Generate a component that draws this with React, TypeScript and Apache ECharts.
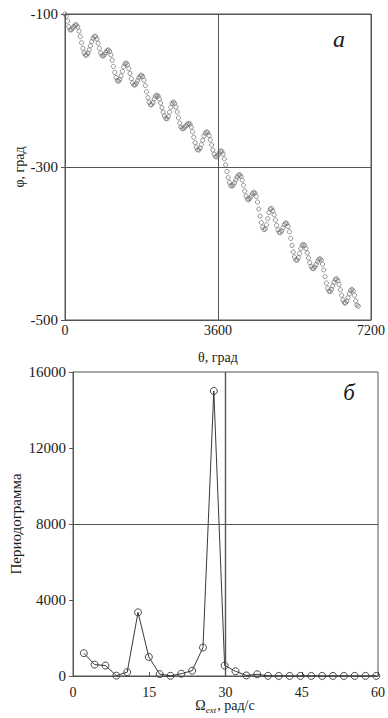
import { useEffect, useRef } from "react";
import * as echarts from "echarts";

// Panel (а): phase angle φ versus rotation angle θ, degrees
const thetaDeg = [
  0, 30, 60, 90, 120, 150, 180, 210, 240, 270,
  300, 330, 360, 390, 420, 450, 480, 510, 540, 570,
  600, 630, 660, 690, 720, 750, 780, 810, 840, 870,
  900, 930, 960, 990, 1020, 1050, 1080, 1110, 1140, 1170,
  1200, 1230, 1260, 1290, 1320, 1350, 1380, 1410, 1440, 1470,
  1500, 1530, 1560, 1590, 1620, 1650, 1680, 1710, 1740, 1770,
  1800, 1830, 1860, 1890, 1920, 1950, 1980, 2010, 2040, 2070,
  2100, 2130, 2160, 2190, 2220, 2250, 2280, 2310, 2340, 2370,
  2400, 2430, 2460, 2490, 2520, 2550, 2580, 2610, 2640, 2670,
  2700, 2730, 2760, 2790, 2820, 2850, 2880, 2910, 2940, 2970,
  3000, 3030, 3060, 3090, 3120, 3150, 3180, 3210, 3240, 3270,
  3300, 3330, 3360, 3390, 3420, 3450, 3480, 3510, 3540, 3570,
  3600, 3630, 3660, 3690, 3720, 3750, 3780, 3810, 3840, 3870,
  3900, 3930, 3960, 3990, 4020, 4050, 4080, 4110, 4140, 4170,
  4200, 4230, 4260, 4290, 4320, 4350, 4380, 4410, 4440, 4470,
  4500, 4530, 4560, 4590, 4620, 4650, 4680, 4710, 4740, 4770,
  4800, 4830, 4860, 4890, 4920, 4950, 4980, 5010, 5040, 5070,
  5100, 5130, 5160, 5190, 5220, 5250, 5280, 5310, 5340, 5370,
  5400, 5430, 5460, 5490, 5520, 5550, 5580, 5610, 5640, 5670,
  5700, 5730, 5760, 5790, 5820, 5850, 5880, 5910, 5940, 5970,
  6000, 6030, 6060, 6090, 6120, 6150, 6180, 6210, 6240, 6270,
  6300, 6330, 6360, 6390, 6420, 6450, 6480, 6510, 6540, 6570,
  6600, 6630, 6660, 6690, 6720, 6750, 6780, 6810, 6840, 6870,
  6900,
];

const phiDeg = [
  -100, -102.7, -109.3, -116.6, -120.8, -120.6, -118.7, -116.2, -114.4, -114.2,
  -116.9, -122.4, -129.6, -137.6, -145.0, -150.6, -153.6, -153.7, -151.2, -146.9,
  -141.5, -136.1, -131.8, -129.4, -129.4, -132.6, -138.3, -145.0, -150.9, -154.4,
  -154.8, -153.1, -150.3, -147.9, -147.0, -148.7, -153.5, -160.4, -168.5, -176.4,
  -183.0, -187.0, -187.9, -185.7, -180.9, -174.9, -169.1, -165.1, -164.1, -166.2,
  -171.2, -177.8, -184.6, -190.0, -192.8, -192.6, -190.5, -187.2, -183.6, -181.0,
  -180.0, -181.7, -186.5, -193.6, -201.7, -209.4, -215.4, -218.6, -218.6, -215.6,
  -211.1, -207.3, -206.0, -207.4, -211.0, -216.3, -222.4, -228.4, -233.3, -236.3,
  -236.9, -234.1, -228.4, -221.9, -216.8, -215.0, -216.8, -221.5, -228.2, -235.8,
  -242.7, -247.8, -250.0, -249.6, -248.0, -245.9, -244.0, -243.0, -243.9, -247.7,
  -253.8, -261.1, -268.4, -274.2, -277.5, -277.7, -275.3, -270.7, -265.1, -259.7,
  -255.7, -254.0, -255.1, -258.8, -264.5, -271.2, -277.8, -283.2, -286.4, -286.8,
  -284.7, -281.4, -279.2, -279.6, -283.2, -289.4, -297.3, -305.9, -313.9, -320.3,
  -324.1, -324.9, -323.5, -320.5, -316.7, -313.2, -310.7, -310.0, -312.1, -317.2,
  -324.1, -331.5, -338.0, -342.0, -342.9, -341.2, -338.0, -334.8, -333.1, -334.1,
  -338.5, -345.8, -354.8, -364.2, -372.6, -378.8, -381.8, -380.9, -375.6, -367.6,
  -359.7, -354.8, -354.3, -357.1, -362.5, -369.3, -376.2, -382.0, -385.4, -385.8,
  -383.5, -379.4, -375.4, -373.2, -373.8, -377.8, -384.6, -393.3, -402.6, -411.1,
  -417.7, -421.4, -421.7, -418.5, -413.0, -406.9, -402.4, -401.0, -402.6, -406.6,
  -412.3, -418.9, -425.0, -429.9, -432.6, -432.8, -430.8, -427.5, -423.8, -421.1,
  -420.0, -421.8, -426.9, -434.5, -443.3, -451.7, -458.5, -462.4, -462.7, -460.1,
  -455.5, -450.6, -447.0, -446.1, -448.4, -453.5, -460.4, -467.6, -473.7, -477.3,
  -477.8, -475.4, -470.9, -465.8, -461.7, -460.0, -461.9, -467.7, -475.0, -480.5,
  -482.0,
];

// Panel (б): periodogram versus frequency Ω_ext, rad/s
const omegaExt = [
  2.13, 4.26, 6.39, 8.52, 10.66, 12.79, 14.92, 17.05, 19.18, 21.31,
  23.44, 25.57, 27.70, 29.83, 31.97, 34.10, 36.23, 38.36, 40.49, 42.62,
  44.75, 46.88, 49.01, 51.14, 53.28, 55.41, 57.54, 59.67,
];

const periodogram = [
  1200, 600, 550, 20, 200, 3350, 1000, 100, 10, 120,
  280, 1500, 15000, 550, 250, 30, 90, 10, 5, 5,
  5, 5, 5, 5, 5, 5, 5, 5,
];

const FONT = '"Liberation Serif", "Times New Roman", serif';
const AXIS = "#555555";
const INK = "#1a1a1a";

const plain = (v: number) => String(v);

export default function App() {
  const ref = useRef<HTMLDivElement>(null);

  useEffect(() => {
    if (!ref.current) return;
    const chart = echarts.init(ref.current, null, { renderer: "svg" });

    const axisCommon = {
      type: "value" as const,
      axisLine: { show: true, lineStyle: { color: AXIS, width: 1 } },
      axisLabel: { color: INK, fontFamily: FONT, formatter: plain },
    };

    chart.setOption({
      animation: false,
      backgroundColor: "#ffffff",
      textStyle: { fontFamily: FONT },
      grid: [
        { left: 65, top: 14, width: 306, height: 306, show: true, borderColor: AXIS, borderWidth: 1, backgroundColor: "transparent" },
        { left: 73, top: 372, width: 305, height: 304, show: true, borderColor: AXIS, borderWidth: 1, backgroundColor: "transparent" },
      ],
      xAxis: [
        {
          ...axisCommon,
          gridIndex: 0,
          min: 0,
          max: 7200,
          interval: 3600,
          axisTick: { show: true, inside: true, length: 4, lineStyle: { color: AXIS } },
          axisLabel: { ...axisCommon.axisLabel, fontSize: 14, margin: 3 },
          splitLine: { show: true, lineStyle: { color: AXIS, width: 1 } },
        },
        {
          ...axisCommon,
          gridIndex: 1,
          min: 0,
          max: 60,
          interval: 15,
          axisTick: { show: true, inside: true, length: 4, lineStyle: { color: AXIS } },
          axisLabel: { ...axisCommon.axisLabel, fontSize: 14, margin: 9 },
          splitLine: { show: false },
        },
      ],
      yAxis: [
        {
          ...axisCommon,
          gridIndex: 0,
          min: -500,
          max: -100,
          interval: 200,
          axisTick: { show: true, inside: false, length: 4, lineStyle: { color: AXIS } },
          axisLabel: { ...axisCommon.axisLabel, fontSize: 15, margin: 7 },
          splitLine: { show: true, lineStyle: { color: AXIS, width: 1 } },
        },
        {
          ...axisCommon,
          gridIndex: 1,
          min: 0,
          max: 16000,
          interval: 4000,
          axisTick: { show: true, inside: false, length: 4, lineStyle: { color: AXIS } },
          axisLabel: { ...axisCommon.axisLabel, fontSize: 15, margin: 7 },
          splitLine: { show: false },
        },
      ],
      series: [
        {
          type: "scatter",
          xAxisIndex: 0,
          yAxisIndex: 0,
          data: thetaDeg.map((t, i) => [t, phiDeg[i]]),
          symbol: "circle",
          symbolSize: 4.2,
          itemStyle: { color: "rgba(255,255,255,0)", borderColor: "#6a6a6a", borderWidth: 0.9 },
          silent: true,
        },
        {
          type: "line",
          xAxisIndex: 1,
          yAxisIndex: 1,
          data: omegaExt.map((w, i) => [w, periodogram[i]]),
          symbol: "circle",
          symbolSize: 7,
          showSymbol: true,
          lineStyle: { color: "#222222", width: 0.9 },
          itemStyle: { color: "rgba(255,255,255,0)", borderColor: "#333333", borderWidth: 0.9 },
          silent: true,
          markLine: {
            silent: true,
            symbol: "none",
            label: { show: false },
            lineStyle: { color: AXIS, type: "solid", width: 1 },
            data: [{ xAxis: 30, lineStyle: { width: 1.4 } }, { yAxis: 8000 }],
          },
        },
      ],
      graphic: [
        {
          type: "text",
          x: 19,
          y: 167,
          rotation: Math.PI / 2,
          style: { text: "φ, град", font: `14px ${FONT}`, fill: INK, align: "center", verticalAlign: "middle" },
        },
        {
          type: "text",
          x: 218,
          y: 357,
          style: { text: "θ, град", font: `14px ${FONT}`, fill: INK, align: "center", verticalAlign: "middle" },
        },
        {
          type: "text",
          x: 339,
          y: 39,
          style: { text: "а", font: `italic 24px ${FONT}`, fill: INK, align: "center", verticalAlign: "middle" },
        },
        {
          type: "text",
          x: 16,
          y: 524,
          rotation: Math.PI / 2,
          style: { text: "Периодограмма", font: `15px ${FONT}`, fill: INK, align: "center", verticalAlign: "middle" },
        },
        {
          type: "text",
          x: 349,
          y: 392,
          style: { text: "б", font: `italic 23px ${FONT}`, fill: INK, align: "center", verticalAlign: "middle" },
        },
        {
          type: "text",
          x: 225,
          y: 706,
          style: {
            text: "{m|Ω}{s|ext}{m|, рад/с}",
            fill: INK,
            align: "center",
            verticalAlign: "middle",
            rich: {
              m: { fontFamily: FONT, fontSize: 14, lineHeight: 15, verticalAlign: "top", fill: INK },
              s: { fontFamily: FONT, fontSize: 9, fontStyle: "italic", lineHeight: 9, padding: [7, 1, 0, 0], verticalAlign: "top", fill: INK },
            },
          },
        },
      ],
    });

    return () => chart.dispose();
  }, []);

  return (
    <div
      ref={ref}
      style={{ position: "fixed", left: 0, top: 0, width: 388, height: 718, background: "#fff" }}
    />
  );
}
